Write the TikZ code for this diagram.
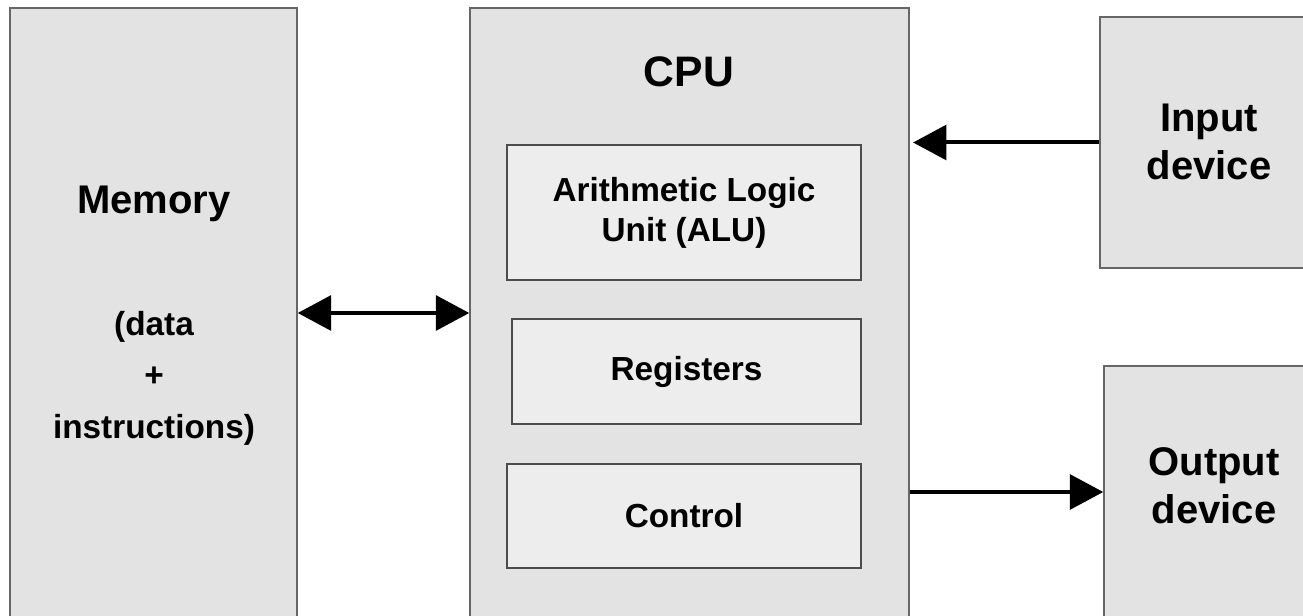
\documentclass[tikz,border=0pt]{standalone}
\usepackage{fontspec}
\setmainfont{Liberation Sans}
\usetikzlibrary{fit,arrows.meta}
\tikzstyle{block} = [draw=black!60, fill=black!11, line width=1.1pt, inner sep=0pt]
\tikzstyle{part} = [draw=black!70, fill=black!7, line width=1.1pt, inner sep=0pt, minimum width=265.5pt, align=center, font={\bfseries\fontsize{25}{30}\selectfont}]
\tikzstyle{title} = [align=center, font={\bfseries\fontsize{30}{36}\selectfont}]
\tikzstyle{link} = [line width=3pt, >={Triangle[length=25pt,width=26pt]}]

\begin{document}
\begin{tikzpicture}[x=0.75pt,y=-0.75pt]
        \useasboundingbox (0,0) rectangle (1303,616);
        \clip (0,0) rectangle (1303,616);
        \node[block,fit={(10,8)(297,618)}](mem){};
        \node[block,fit={(470,8)(909,618)}](cpu){};
        \node[block,fit={(1100,17)(1318,268)}](in){};
        \node[block,fit={(1104,366)(1324,618)}](out){};
        \node[part,minimum height=101.25pt](alu) at (684,212.5){Arithmetic Logic\\Unit (ALU)};
        \node[part,minimum width=261.75pt,minimum height=78.75pt](reg) at (686.5,371.5){Registers};
        \node[part,minimum height=78pt](ctrl) at (684,516){Control};
        \node[title,anchor=base](memlbl) at (154,214){Memory};
        \node[align=center,font={\bfseries\fontsize{25}{38.6}\selectfont}](memsub) at (154,378){(data\\+\\instructions)};
        \node[title,anchor=base,font={\bfseries\fontsize{32}{36}\selectfont}](cpulbl) at (689,87){CPU};
        \node[title](inlbl) at (1209,142){Input\\device};
        \node[title](outlbl) at (1214,486){Output\\device};
        \draw[link,<->](mem)--(cpu);
        \draw[link,->,shorten >=2.5pt](in.west)--(in.west -| cpu.east);
        \draw[link,->](out.west -| cpu.east)--(out.west);
      \end{tikzpicture}
\end{document}
